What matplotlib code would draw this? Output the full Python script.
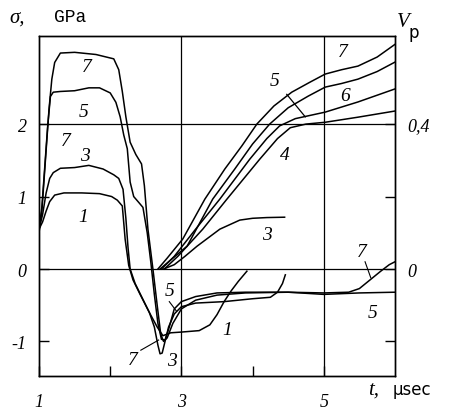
import matplotlib
matplotlib.use('Agg')
import matplotlib.pyplot as plt

# stress curves sigma(t), GPa (left axis)
t1 = [1.0, 1.05, 1.1, 1.15, 1.22, 1.35, 1.6, 1.85, 2.02, 2.1, 2.17, 2.21, 2.26, 2.32, 2.42,
      2.55, 2.66, 2.74, 2.85, 3.0, 3.25, 3.4, 3.5, 3.6, 3.7, 3.8, 3.92]
s1 = [0.55, 0.65, 0.8, 0.93, 1.02, 1.05, 1.05, 1.04, 1.0, 0.95, 0.87, 0.41, 0.05, -0.15, -0.35,
      -0.6, -0.8, -0.92, -0.88, -0.87, -0.85, -0.77, -0.63, -0.45, -0.3, -0.17, -0.03]

t3 = [1.0, 1.05, 1.1, 1.15, 1.2, 1.3, 1.5, 1.7, 1.9, 2.05, 2.12, 2.18, 2.22, 2.25, 2.28, 2.35,
      2.45, 2.55, 2.62, 2.67, 2.7, 2.73, 2.77, 2.82, 2.9, 3.0, 3.2, 3.6, 4.0, 4.25, 4.35, 4.42, 4.46]
s3 = [0.55, 0.75, 1.05, 1.25, 1.33, 1.39, 1.4, 1.43, 1.38, 1.3, 1.25, 1.1, 0.7, 0.3, 0.0, -0.2,
      -0.4, -0.6, -0.8, -1.05, -1.17, -1.16, -1.0, -0.8, -0.62, -0.52, -0.47, -0.45, -0.41, -0.39,
      -0.32, -0.2, -0.08]

t5 = [1.0, 1.04, 1.08, 1.12, 1.16, 1.2, 1.3, 1.5, 1.7, 1.85, 2.0, 2.08, 2.14, 2.19, 2.24, 2.28,
      2.33, 2.4, 2.46, 2.52, 2.57, 2.62, 2.67, 2.72, 2.77, 2.83, 2.9, 3.0, 3.2, 3.5, 3.9, 4.5,
      5.0, 5.5, 6.0]
s5 = [0.55, 0.85, 1.4, 1.95, 2.38, 2.44, 2.45, 2.46, 2.5, 2.5, 2.43, 2.3, 2.1, 1.85, 1.66, 1.2,
      1.0, 0.92, 0.85, 0.5, 0.1, -0.35, -0.75, -0.97, -0.98, -0.8, -0.55, -0.45, -0.38, -0.33,
      -0.32, -0.32, -0.35, -0.33, -0.32]

t7 = [1.0, 1.04, 1.09, 1.14, 1.18, 1.22, 1.3, 1.5, 1.8, 2.05, 2.12, 2.17, 2.22, 2.28, 2.36, 2.44,
      2.48, 2.53, 2.6, 2.66, 2.71, 2.75, 2.8, 2.88, 3.0, 3.2, 3.5, 3.9, 4.5, 5.0, 5.35, 5.5, 5.65,
      5.8, 5.92, 6.0]
s7 = [0.5, 0.8, 1.5, 2.2, 2.62, 2.85, 2.98, 2.99, 2.96, 2.9, 2.75, 2.45, 2.1, 1.75, 1.58, 1.45,
      1.15, 0.55, 0.0, -0.5, -0.9, -1.0, -0.95, -0.75, -0.55, -0.43, -0.36, -0.33, -0.32, -0.33,
      -0.32, -0.27, -0.15, -0.03, 0.06, 0.1]

# particle velocity curves Vp(t) (right axis)
tv3 = [2.75, 2.9, 3.05, 3.22, 3.54, 3.82, 4.0, 4.2, 4.45]
v3 = [0.0, 0.012, 0.035, 0.063, 0.11, 0.135, 0.14, 0.142, 0.143]

tv4 = [2.76, 2.95, 3.3, 3.64, 4.1, 4.35, 4.53, 4.75, 5.02, 5.48, 6.0]
v4 = [0.0, 0.035, 0.11, 0.193, 0.303, 0.36, 0.39, 0.4, 0.405, 0.419, 0.436]

tv5 = [2.70, 2.85, 3.08, 3.44, 3.75, 4.0, 4.24, 4.5, 4.78, 5.02, 5.25, 5.48, 5.75, 6.0]
v5 = [0.0, 0.025, 0.063, 0.193, 0.276, 0.345, 0.4, 0.445, 0.477, 0.502, 0.512, 0.524, 0.545, 0.571]

tv6 = [2.72, 2.9, 3.2, 3.54, 3.96, 4.2, 4.38, 4.6, 5.02, 5.48, 6.0]
v6 = [0.0, 0.035, 0.11, 0.193, 0.303, 0.36, 0.395, 0.415, 0.433, 0.461, 0.497]

tv7 = [2.67, 2.8, 3.02, 3.33, 3.61, 3.85, 4.06, 4.3, 4.55, 4.8, 5.02, 5.25, 5.48, 5.75, 6.0]
v7 = [0.0, 0.03, 0.083, 0.193, 0.276, 0.34, 0.4, 0.45, 0.488, 0.515, 0.538, 0.55, 0.56, 0.585, 0.62]

num = {'family': 'Liberation Serif', 'style': 'italic', 'size': 13}

fig = plt.figure(figsize=(4.5, 4.14), dpi=100)
ax = fig.add_axes([0.0867, 0.0894, 0.791, 0.821])
ax2 = ax.twinx()

lw = 1.1
for t, s in [(t1, s1), (t3, s3), (t5, s5), (t7, s7)]:
    ax.plot(t, s, color='black', lw=lw)
for t, v in [(tv3, v3), (tv4, v4), (tv5, v5), (tv6, v6), (tv7, v7)]:
    ax2.plot(t, v, color='black', lw=lw)

ax.set_xlim(1, 6)
ax.set_ylim(-1.476, 3.214)
ax2.set_ylim(-1.476 * 0.2, 3.214 * 0.2)

# grid
for x in [3, 5]:
    ax.axvline(x, color='black', lw=0.9)
for y in [0, 2]:
    ax.axhline(y, color='black', lw=0.9)

for a in (ax, ax2):
    for sp in a.spines.values():
        sp.set_linewidth(1.0)

ax.set_xticks([1, 2, 3, 4, 5])
ax.set_xticklabels(['1', '', '3', '', '5'], fontdict=num)
ax.set_yticks([-1, 0, 1, 2])
ax.set_yticklabels(['-1', '0', '1', '2'], fontdict=num)
ax2.set_yticks([-0.2, 0, 0.2, 0.4])
ax2.set_yticklabels(['', '0', '', '0,4'], fontdict=num)
ax.tick_params(direction='in', length=7, width=1, pad=9)
ax.tick_params(axis='x', pad=12)
ax2.tick_params(direction='in', length=7, width=1, pad=9)

# curve labels
lab = {'family': 'Liberation Serif', 'style': 'italic', 'size': 14}
for x, y, s in [(1.67, 2.79, '7'), (1.62, 2.18, '5'), (1.37, 1.77, '7'), (1.65, 1.57, '3'),
                (1.62, 0.73, '1'), (2.84, -0.3, '5'), (2.87, -1.26, '3'), (3.64, -0.83, '1'),
                (4.2, 0.48, '3'), (5.68, -0.6, '5'), (5.26, 3.0, '7'), (5.3, 2.4, '6'),
                (4.31, 2.6, '5'), (4.45, 1.58, '4'), (2.32, -1.25, '7'), (5.54, 0.24, '7')]:
    ax.text(x, y, s, ha='center', va='center', fontdict=lab)

# leader strokes
ax.plot([2.43, 2.68], [-1.12, -0.98], color='black', lw=0.8)
ax.plot([5.58, 5.66], [0.1, -0.12], color='black', lw=0.8)
ax.plot([4.48, 4.74], [2.41, 2.1], color='black', lw=0.9)
ax.plot([2.83, 2.93], [-0.45, -0.58], color='black', lw=0.8)

# axis titles
fig.text(0.02, 0.957, 'σ,', family='Liberation Serif', style='italic', size=15, va='center')
fig.text(0.12, 0.957, 'GPa', family='Liberation Mono', size=13, va='center')
fig.text(0.882, 0.945, 'V', family='Liberation Serif', style='italic', size=15, va='center')
fig.text(0.908, 0.92, 'p', family='DejaVu Sans', size=12, va='center')
fig.text(0.818, 0.058, 't,', family='Liberation Serif', style='italic', size=15, va='center')
fig.text(0.872, 0.058, 'μsec', family='DejaVu Sans', size=12, va='center')

fig.savefig('out.png', dpi=100, facecolor='white')
